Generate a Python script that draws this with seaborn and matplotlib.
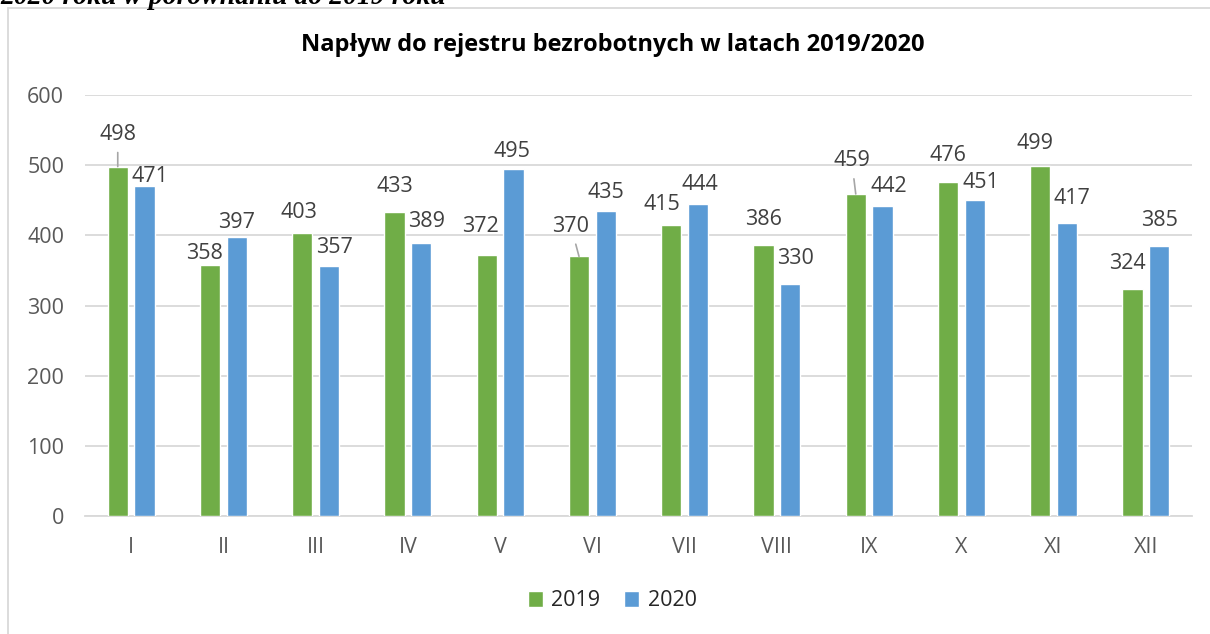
import matplotlib
matplotlib.use('Agg')
import matplotlib.pyplot as plt
import pandas as pd
import seaborn as sns
from matplotlib.lines import Line2D

months = ["I", "II", "III", "IV", "V", "VI", "VII", "VIII", "IX", "X", "XI", "XII"]
years = ["2019", "2020"]
values_2019 = [498, 358, 403, 433, 372, 370, 415, 386, 459, 476, 499, 324]
values_2020 = [471, 397, 357, 389, 495, 435, 444, 330, 442, 451, 417, 385]
y_ticks = [0, 100, 200, 300, 400, 500, 600]

# label offsets in pixels (dx, dy) from the bar top, as Excel placed them
offsets_2019 = [(0, 32), (-5, 11), (-3, 21), (0, 26), (-6, 28), (-8, 30),
                (-9, 20), (0, 26), (-4, 33), (0, 27), (-5, 22), (-5, 25)]
offsets_2020 = [(5, 9), (0, 15), (5, 18), (5, 22), (-2, 17), (0, 18),
                (2, 20), (5, 26), (6, 19), (6, 17), (5, 25), (0, 25)]
leader_2019 = {0, 5, 8}  # labels drawn with a thin leader line

df = pd.DataFrame({
    "month": months * 2,
    "year": [years[0]] * 12 + [years[1]] * 12,
    "count": values_2019 + values_2020,
})

sns.set_style("white")
plt.rcParams['font.family'] = ['Open Sans', 'DejaVu Sans']

fig = plt.figure(figsize=(12.1, 6.34), dpi=100)
ax = fig.add_axes([85 / 1210, 118 / 634, 1107 / 1210, 421 / 634])

sns.barplot(data=df, x="month", y="count", hue="year", order=months,
            palette=["#70AD47", "#5B9BD5"], saturation=1,
            width=0.58, gap=0.24, ax=ax, zorder=3)

ax.set_ylim(0, 600)
ax.set_xlim(-0.5, 11.5)
ax.set_yticks(y_ticks)
ax.set_xlabel("")
ax.set_ylabel("")
ax.grid(axis="y", color="#D9D9D9", linewidth=1.3, zorder=0)
ax.set_axisbelow(True)
for s in ["top", "right", "left"]:
    ax.spines[s].set_visible(False)
ax.spines["bottom"].set_color("#D9D9D9")
ax.spines["bottom"].set_linewidth(1.3)
ax.tick_params(axis="y", length=0, pad=15, labelsize=15.5, labelcolor="#595959")
ax.tick_params(axis="x", length=0, pad=15, labelsize=15.5, labelcolor="#595959")

# data labels
for container, offs, vals, leaders in [
        (ax.containers[0], offsets_2019, values_2019, leader_2019),
        (ax.containers[1], offsets_2020, values_2020, set())]:
    for i, bar in enumerate(container):
        cx = bar.get_x() + bar.get_width() / 2
        top = bar.get_height()
        props = None
        if i in leaders:
            props = dict(arrowstyle="-", color="#A6A6A6", lw=1.2,
                         shrinkA=3, shrinkB=0)
        ax.annotate(str(vals[i]), xy=(cx, top), xytext=offs[i],
                    textcoords="offset pixels", ha="center", va="center",
                    fontsize=15.5, color="#404040", arrowprops=props, zorder=4)

ax.legend(loc="center", bbox_to_anchor=(0.506, 1 - 601 / 634),
          bbox_transform=fig.transFigure, ncol=2, frameon=False,
          fontsize=15.5, handlelength=0.7, handleheight=0.7,
          handletextpad=0.4, columnspacing=1.1, borderaxespad=0)

fig.text(0.506, 1 - 45 / 634, "Napływ do rejestru bezrobotnych w latach 2019/2020",
         ha="center", va="center", fontsize=17, fontweight="bold", color="black")

# clipped heading of the document above the chart
fig.text(0.0, 1 - 4 / 634, "2020 roku w porównaniu do 2019 roku",
         ha="left", va="baseline", fontsize=20, fontweight="bold", style="italic",
         family=["Liberation Serif", "DejaVu Serif"], color="black")

# chart frame (only top and left edges fall inside the picture)
fig.add_artist(Line2D([8 / 1210, 8 / 1210], [0, 1 - 8 / 634],
                      transform=fig.transFigure, color="#D9D9D9", lw=1.3))
fig.add_artist(Line2D([8 / 1210, 1], [1 - 8 / 634, 1 - 8 / 634],
                      transform=fig.transFigure, color="#D9D9D9", lw=1.3))

fig.savefig("out.png", dpi=100)
